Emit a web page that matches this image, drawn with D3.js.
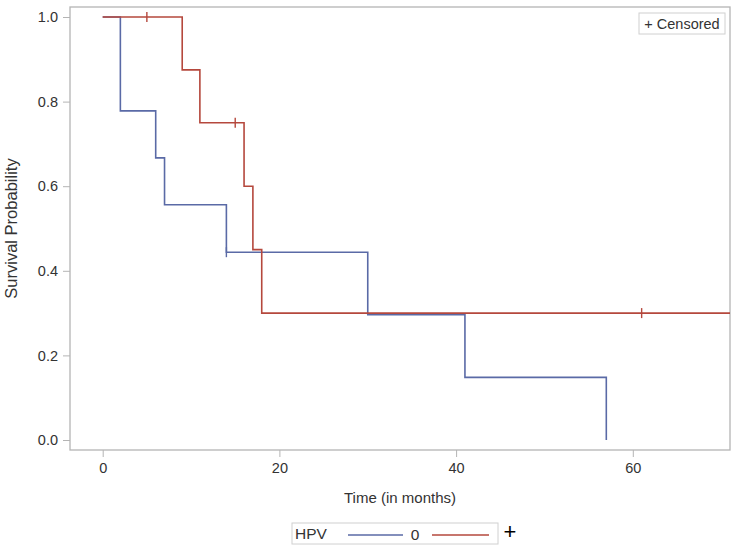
<!DOCTYPE html>
<html>
<head>
<meta charset="utf-8">
<script src="https://cdn.jsdelivr.net/npm/d3@7"></script>
<style>
  body { margin: 0; background: #fff; }
  svg { display: block; font-family: "Liberation Sans", Arial, sans-serif; }
</style>
</head>
<body>
<svg id="chart" width="736" height="550"></svg>
<script>
// ---- data ----
const groupLabels = ["0", "+"];
const blueTimes = [0, 2, 6, 7, 14, 30, 41, 57];
const blueSurv  = [1.0, 0.778, 0.667, 0.556, 0.444, 0.296, 0.148, 0.0];
const blueCensorTimes = [14];
const blueCensorSurv  = [0.444];
const redTimes = [0, 9, 11, 16, 17, 18, 71];
const redSurv  = [1.0, 0.875, 0.75, 0.6, 0.45, 0.3, 0.3];
const redCensorTimes = [5, 15, 61];
const redCensorSurv  = [1.0, 0.75, 0.3];
const xTicks = [0, 20, 40, 60];
const yTicks = [0.0, 0.2, 0.4, 0.6, 0.8, 1.0];

const blue = "#5a6aa6", red = "#b5483d", frame = "#b4b4b4", txt = "#333";

const svg = d3.select("#chart");
const L = 70, R = 730, T = 7, B = 450;
const x = d3.scaleLinear().domain([-3.7, 71]).range([L, R]);
const y = d3.scaleLinear().domain([0, 1]).range([440, 17]);

// clip
svg.append("clipPath").attr("id", "clip").append("rect")
  .attr("x", L).attr("y", T).attr("width", R - L).attr("height", B - T);

// axes
const xAxis = svg.append("g").attr("transform", `translate(0,${B})`)
  .call(d3.axisBottom(x).tickValues(xTicks).tickFormat(d3.format("d")).tickSize(7).tickPadding(6));
const yAxis = svg.append("g").attr("transform", `translate(${L},0)`)
  .call(d3.axisLeft(y).tickValues(yTicks).tickFormat(d3.format(".1f")).tickSize(7).tickPadding(5));
[xAxis, yAxis].forEach(a => {
  a.select(".domain").remove();
  a.selectAll("line").attr("stroke", frame);
  a.selectAll("text").attr("fill", txt).style("font-size", "14.5px");
});

// frame
svg.append("rect").attr("x", L).attr("y", T).attr("width", R - L).attr("height", B - T)
  .attr("fill", "none").attr("stroke", frame).attr("stroke-width", 1.3);

// axis labels
svg.append("text").attr("x", (L + R) / 2).attr("y", 503).attr("text-anchor", "middle")
  .attr("fill", txt).style("font-size", "15px").text("Time (in months)");
svg.append("text").attr("transform", `translate(17,${(17 + 440) / 2}) rotate(-90)`)
  .attr("text-anchor", "middle").attr("fill", txt).style("font-size", "16.5px").text("Survival Probability");

// curves
const line = d3.line().x(d => x(d[0])).y(d => y(d[1])).curve(d3.curveStepAfter);
const g = svg.append("g").attr("clip-path", "url(#clip)");
function drawCurve(times, surv, color) {
  g.append("path").datum(times.map((t, i) => [t, surv[i]]))
    .attr("d", line).attr("fill", "none").attr("stroke", color).attr("stroke-width", 1.6);
}
function drawCensor(times, surv, color) {
  g.selectAll(null).data(times.map((t, i) => [t, surv[i]])).enter().append("line")
    .attr("x1", d => x(d[0])).attr("x2", d => x(d[0]))
    .attr("y1", d => y(d[1]) - 5).attr("y2", d => y(d[1]) + 5)
    .attr("stroke", color).attr("stroke-width", 1.4);
}
drawCurve(blueTimes, blueSurv, blue);
drawCurve(redTimes, redSurv, red);
drawCensor(blueCensorTimes, blueCensorSurv, blue);
drawCensor(redCensorTimes, redCensorSurv, red);

// censored legend
const cg = svg.append("g");
cg.append("rect").attr("x", 639).attr("y", 13).attr("width", 86).attr("height", 21)
  .attr("fill", "#fff").attr("stroke", "#d0d0d0");
cg.append("text").attr("x", 682).attr("y", 28.5).attr("text-anchor", "middle")
  .attr("fill", txt).style("font-size", "14.5px").text("+ Censored");

// bottom legend
const lg = svg.append("g");
lg.append("rect").attr("x", 292).attr("y", 523).attr("width", 206).attr("height", 21)
  .attr("fill", "#fff").attr("stroke", "#d0d0d0");
lg.append("text").attr("x", 295).attr("y", 539).attr("fill", txt).style("font-size", "15.5px").text("HPV");
lg.append("line").attr("x1", 348).attr("x2", 403).attr("y1", 535).attr("y2", 535)
  .attr("stroke", blue).attr("stroke-width", 1.6);
lg.append("text").attr("x", 415).attr("y", 539.5).attr("text-anchor", "middle")
  .attr("fill", txt).style("font-size", "15.5px").text(groupLabels[0]);
lg.append("line").attr("x1", 432).attr("x2", 489).attr("y1", 535).attr("y2", 535)
  .attr("stroke", red).attr("stroke-width", 1.6);
lg.append("text").attr("x", 510).attr("y", 538.5).attr("text-anchor", "middle")
  .attr("fill", "#000").style("font-size", "22px").text(groupLabels[1]);
</script>
</body>
</html>
